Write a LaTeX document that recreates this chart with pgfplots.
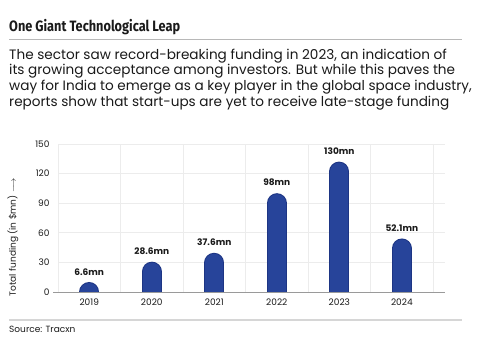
\documentclass[border=0pt]{standalone}
\usepackage{fontspec}
\setmainfont{Poppins}
\newfontfamily\titlefont{Fira Sans}[FakeStretch=0.85]
\usepackage{pgfplots}
\usepackage{pgfplotstable}
\pgfplotsset{compat=1.18}
\definecolor{barfill}{HTML}{27449A}
\definecolor{barline}{HTML}{1D3584}
\definecolor{gridgray}{HTML}{ECECEC}
\definecolor{axisgray}{HTML}{9A9A9A}
\definecolor{txt}{HTML}{1A1A1A}
\definecolor{sepgray}{HTML}{D6D6D6}
\pgfplotstableread{
x v lab
0 6.6 6.6mn
1 28.6 28.6mn
2 37.6 37.6mn
3 98 98mn
4 130 130mn
5 52.1 52.1mn
}\data
\begin{document}
\begin{tikzpicture}[x=1pt,y=1pt]
\fill[white] (0,0) rectangle (480,355);
% title
\node[anchor=base west, inner sep=0, text=txt] at (9,323) {\titlefont\bfseries\fontsize{15}{18}\selectfont One Giant Technological Leap};
\draw[line width=0.8pt, draw=black!28] (9,316) -- (462,316);
% subtitle
\begin{scope}[every node/.style={anchor=base west, inner sep=0, text=txt, font=\fontsize{13.6}{15.6}\selectfont}]
\node at (9,295.7) {The sector saw record-breaking funding in 2023, an indication of};
\node at (9,280.1) {its growing acceptance among investors. But while this paves the};
\node at (9,264.5) {way for India to emerge as a key player in the global space industry,};
\node at (9,248.9) {reports show that start-ups are yet to receive late-stage funding};
\end{scope}
\begin{axis}[
  at={(58pt,63pt)}, anchor=south west, scale only axis,
  width=387pt, height=148pt,
  xmin=-0.5, xmax=5.69, ymin=0, ymax=150,
  axis line style={draw=none},
  ytick={0,30,...,150},
  ymajorgrids,
  grid style={draw=gridgray, line width=0.7pt},
  xtick={0,1,2,3,4,5},
  xticklabels={2019,2020,2021,2022,2023,2024},
  extra x ticks={-0.5,0.5,1.5,2.5,3.5,4.5,5.5},
  extra x tick labels={},
  extra x tick style={grid=major},
  major tick length=0pt,
  /pgf/number format/assume math mode=true,
  tick label style={font=\fontsize{9}{10}\selectfont, text=txt},
  yticklabel style={xshift=-5pt},
  xticklabel style={yshift=-3pt},
  clip=true,
]
\addplot[ycomb, draw=barline, line width=20pt, line cap=round] table[x=x, y expr=\thisrow{v}-8] {\data};
\addplot[ycomb, draw=barfill, line width=18pt, line cap=round] table[x=x, y expr=\thisrow{v}-8] {\data};
\addplot[draw=none, mark=none, nodes near coords, point meta=explicit symbolic,
  nodes near coords style={font=\bfseries\fontsize{9}{10}\selectfont, text=txt, anchor=base, yshift=9.5pt, inner sep=0pt}]
  table[x=x, y=v, meta=lab] {\data};
\end{axis}
\draw[draw=axisgray, line width=0.7pt] (53,63) -- (445,63);
\node[rotate=90, text=txt, font=\fontsize{9}{10}\selectfont, inner sep=0] at (13,118) {Total funding (in \$mn) $\longrightarrow$};
% source
\draw[line width=2pt, draw=sepgray] (9,35) -- (462,35);
\node[anchor=base west, inner sep=0, text=txt, font=\fontsize{9}{10}\selectfont] at (9,22) {Source: Tracxn};
\end{tikzpicture}
\end{document}
